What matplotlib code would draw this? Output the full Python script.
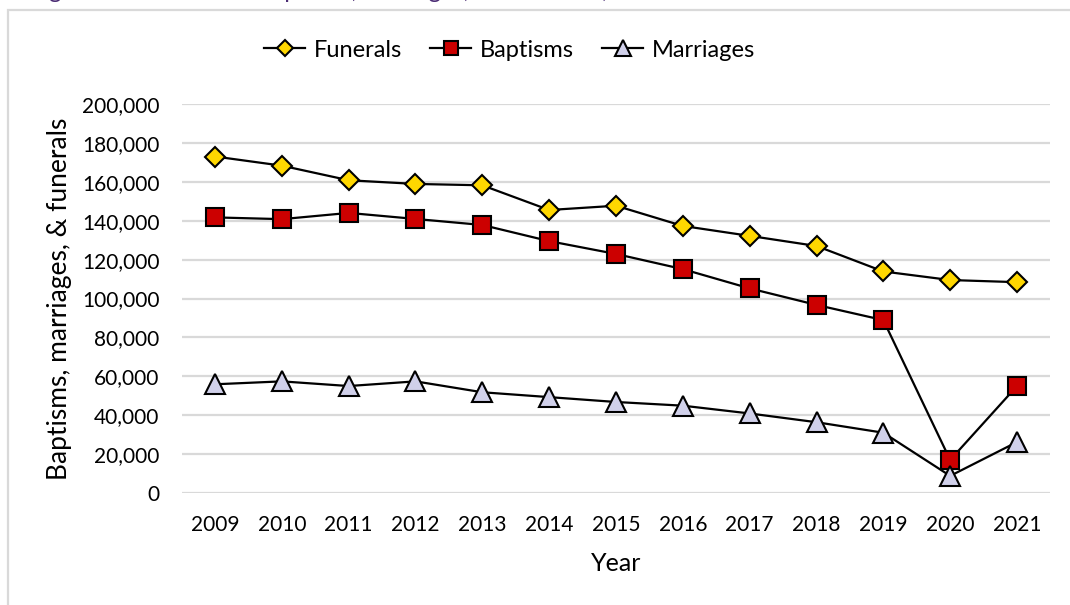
import matplotlib
matplotlib.use('Agg')
import matplotlib.pyplot as plt
from matplotlib.patches import Rectangle
from matplotlib.ticker import FuncFormatter

plt.rcParams['font.family'] = ['Lato', 'DejaVu Sans']

years = ['2009', '2010', '2011', '2012', '2013', '2014', '2015',
         '2016', '2017', '2018', '2019', '2020', '2021']
funerals = [173000, 168300, 160800, 158900, 158200, 145500, 147700,
            137300, 132200, 127000, 113900, 109500, 108400]
baptisms = [141700, 140800, 144000, 140900, 137800, 129500, 122900,
            115100, 105200, 96700, 88900, 17000, 55000]
marriages = [55900, 57400, 55000, 57400, 51800, 49300, 46800,
             44900, 40900, 36400, 31000, 8800, 26200]

fig = plt.figure(figsize=(10.7, 6.05), dpi=100)
ax = fig.add_axes([0.1697, 0.1851, 0.812, 0.643])

x = range(len(years))
ax.plot(x, funerals, color='black', lw=1.6, marker='D', markersize=10.5,
        markerfacecolor='#FFD700', markeredgecolor='black', markeredgewidth=1.5,
        label='Funerals', zorder=3)
ax.plot(x, baptisms, color='black', lw=1.6, marker='s', markersize=12.5,
        markerfacecolor='#CC0000', markeredgecolor='black', markeredgewidth=1.5,
        label='Baptisms', zorder=3)
ax.plot(x, marriages, color='black', lw=1.6, marker='^', markersize=14,
        markerfacecolor='#D0D0EA', markeredgecolor='black', markeredgewidth=1.5,
        label='Marriages', zorder=3)

ax.set_xlim(-0.5, len(years) - 0.5)
ax.set_ylim(0, 200000)
ax.set_yticks(range(0, 200001, 20000))
ax.yaxis.set_major_formatter(FuncFormatter(lambda v, p: f'{int(v):,}'))
ax.set_xticks(list(x))
ax.set_xticklabels(years)
ax.grid(axis='y', color='#D9D9D9', lw=1.6)
ax.set_axisbelow(True)
for s in ax.spines.values():
    s.set_visible(False)
ax.tick_params(length=0, labelsize=15)
ax.tick_params(axis='x', pad=16)
ax.tick_params(axis='y', pad=16)

ax.set_xlabel('Year', fontsize=18, labelpad=12)
ax.set_ylabel('Baptisms, marriages, & funerals', fontsize=19, labelpad=7)

fig.legend(loc='center', bbox_to_anchor=(0.476, 0.917), ncol=3, frameon=False,
           fontsize=17, handlelength=1.75, columnspacing=1.2, handletextpad=0.35,
           markerscale=0.8)

# outer chart border (cut by the image edges)
fig.patches.append(Rectangle((8 / 1070, -0.1), 1.2, 1.1 - 10 / 605,
                             transform=fig.transFigure, fill=False,
                             edgecolor='#D9D9D9', lw=1.6))

# clipped caption above the chart
fig.text(0.028, 1 + 2 / 605, 'Figure 10: Number of baptisms, marriages, and funerals, 2009\u20132021',
         va='baseline', ha='left', fontsize=17, color='#4B2C74')

fig.savefig('out.png', dpi=100, facecolor='white')
plt.close(fig)
